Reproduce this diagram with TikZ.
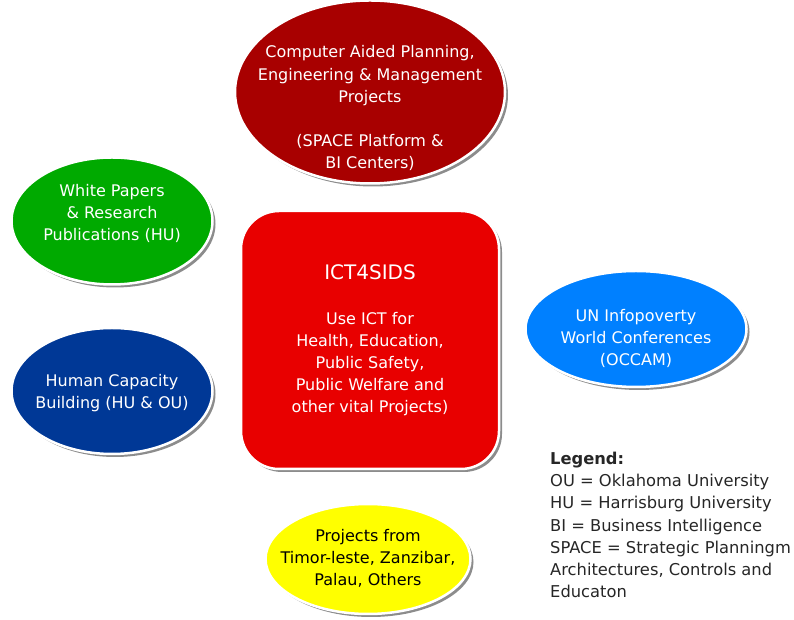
\documentclass[tikz,border=0pt]{standalone}
\usepackage{fontspec}
\setmainfont{DejaVu Sans}
\usepackage{xcolor}
\usetikzlibrary{shapes.geometric, shadows}
\definecolor{planred}{RGB}{168,0,0}
\definecolor{papergreen}{RGB}{0,170,0}
\definecolor{capblue}{RGB}{0,56,150}
\definecolor{unblue}{RGB}{0,128,255}
\definecolor{projyellow}{RGB}{255,255,0}
\definecolor{hubred}{RGB}{232,0,0}
% text of a bubble, kept out of the ellipse size
\newcommand{\bubbletext}[2][0pt]{\makebox[0pt]{\raisebox{#1}[0pt][0pt]{\begin{tabular}{@{}c@{}}#2\end{tabular}}}}

\begin{document}
\begin{tikzpicture}[x=1pt, y=1pt,
  bubble/.style={ellipse, draw=white, line width=2.5pt, text=white, inner sep=0pt,
    font=\fontsize{16}{22}\selectfont,
    drop shadow={shadow xshift=3pt, shadow yshift=-3pt, fill=black, opacity=0.45}}]
  \useasboundingbox (0,0) rectangle (794,620);

  % ICT4SIDS
  \node[draw=white, line width=2.5pt, fill=hubred, rounded corners=38pt, minimum width=258pt, minimum height=258pt,
    align=center, text=white, font=\fontsize{16}{22}\selectfont,
    drop shadow={shadow xshift=3pt, shadow yshift=-3pt, fill=black, opacity=0.45}] (hub) at (370,280) {
    {\fontsize{20}{22}\selectfont ICT4SIDS}\\[23pt]
    Use ICT for\\
    Health, Education,\\
    Public Safety,\\
    Public Welfare and\\
    other vital Projects)
  };

  % Planning
  \node[bubble, fill=planred, minimum width=270pt, minimum height=183pt, font=\fontsize{16}{22.5}\selectfont] (planning) at (370,528) {
    \bubbletext[-21pt]{Computer Aided Planning,\\
    Engineering \& Management\\
    Projects\\[21pt]
    (SPACE Platform \&\\
    BI Centers)}
  };

  % Papers
  \node[bubble, fill=papergreen, minimum width=201pt, minimum height=127pt] (papers) at (112,399) {
    \bubbletext[3pt]{White Papers\\
    \& Research\\
    Publications (HU)}
  };

  % Capacity
  \node[bubble, fill=capblue, minimum width=201pt, minimum height=126pt] (capacity) at (112,229) {
    \bubbletext[-6pt]{Human Capacity\\
    Building (HU \& OU)}
  };

  % Infopoverty
  \node[bubble, fill=unblue, minimum width=221pt, minimum height=116pt] (infopoverty) at (636,291) {
    \bubbletext[-14pt]{UN Infopoverty\\
    World Conferences\\
    (OCCAM)}
  };

  % Projects
  \node[bubble, fill=projyellow, text=black, minimum width=205pt, minimum height=110pt] (projects) at (368,61) {
    \bubbletext[-4pt]{Projects from\\
    Timor-leste, Zanzibar,\\
    Palau, Others}
  };

  % Legend
  \node[anchor=north west, align=left, inner sep=0pt, text=black!85, font=\fontsize{16.3}{22.2}\selectfont] (legend) at (550,168) {
    \textbf{Legend:}\\
    OU = Oklahoma University\\
    HU = Harrisburg University\\
    BI = Business Intelligence\\
    SPACE = Strategic Planningm\\
    Architectures, Controls and\\
    Educaton
  };
\end{tikzpicture}
\end{document}
